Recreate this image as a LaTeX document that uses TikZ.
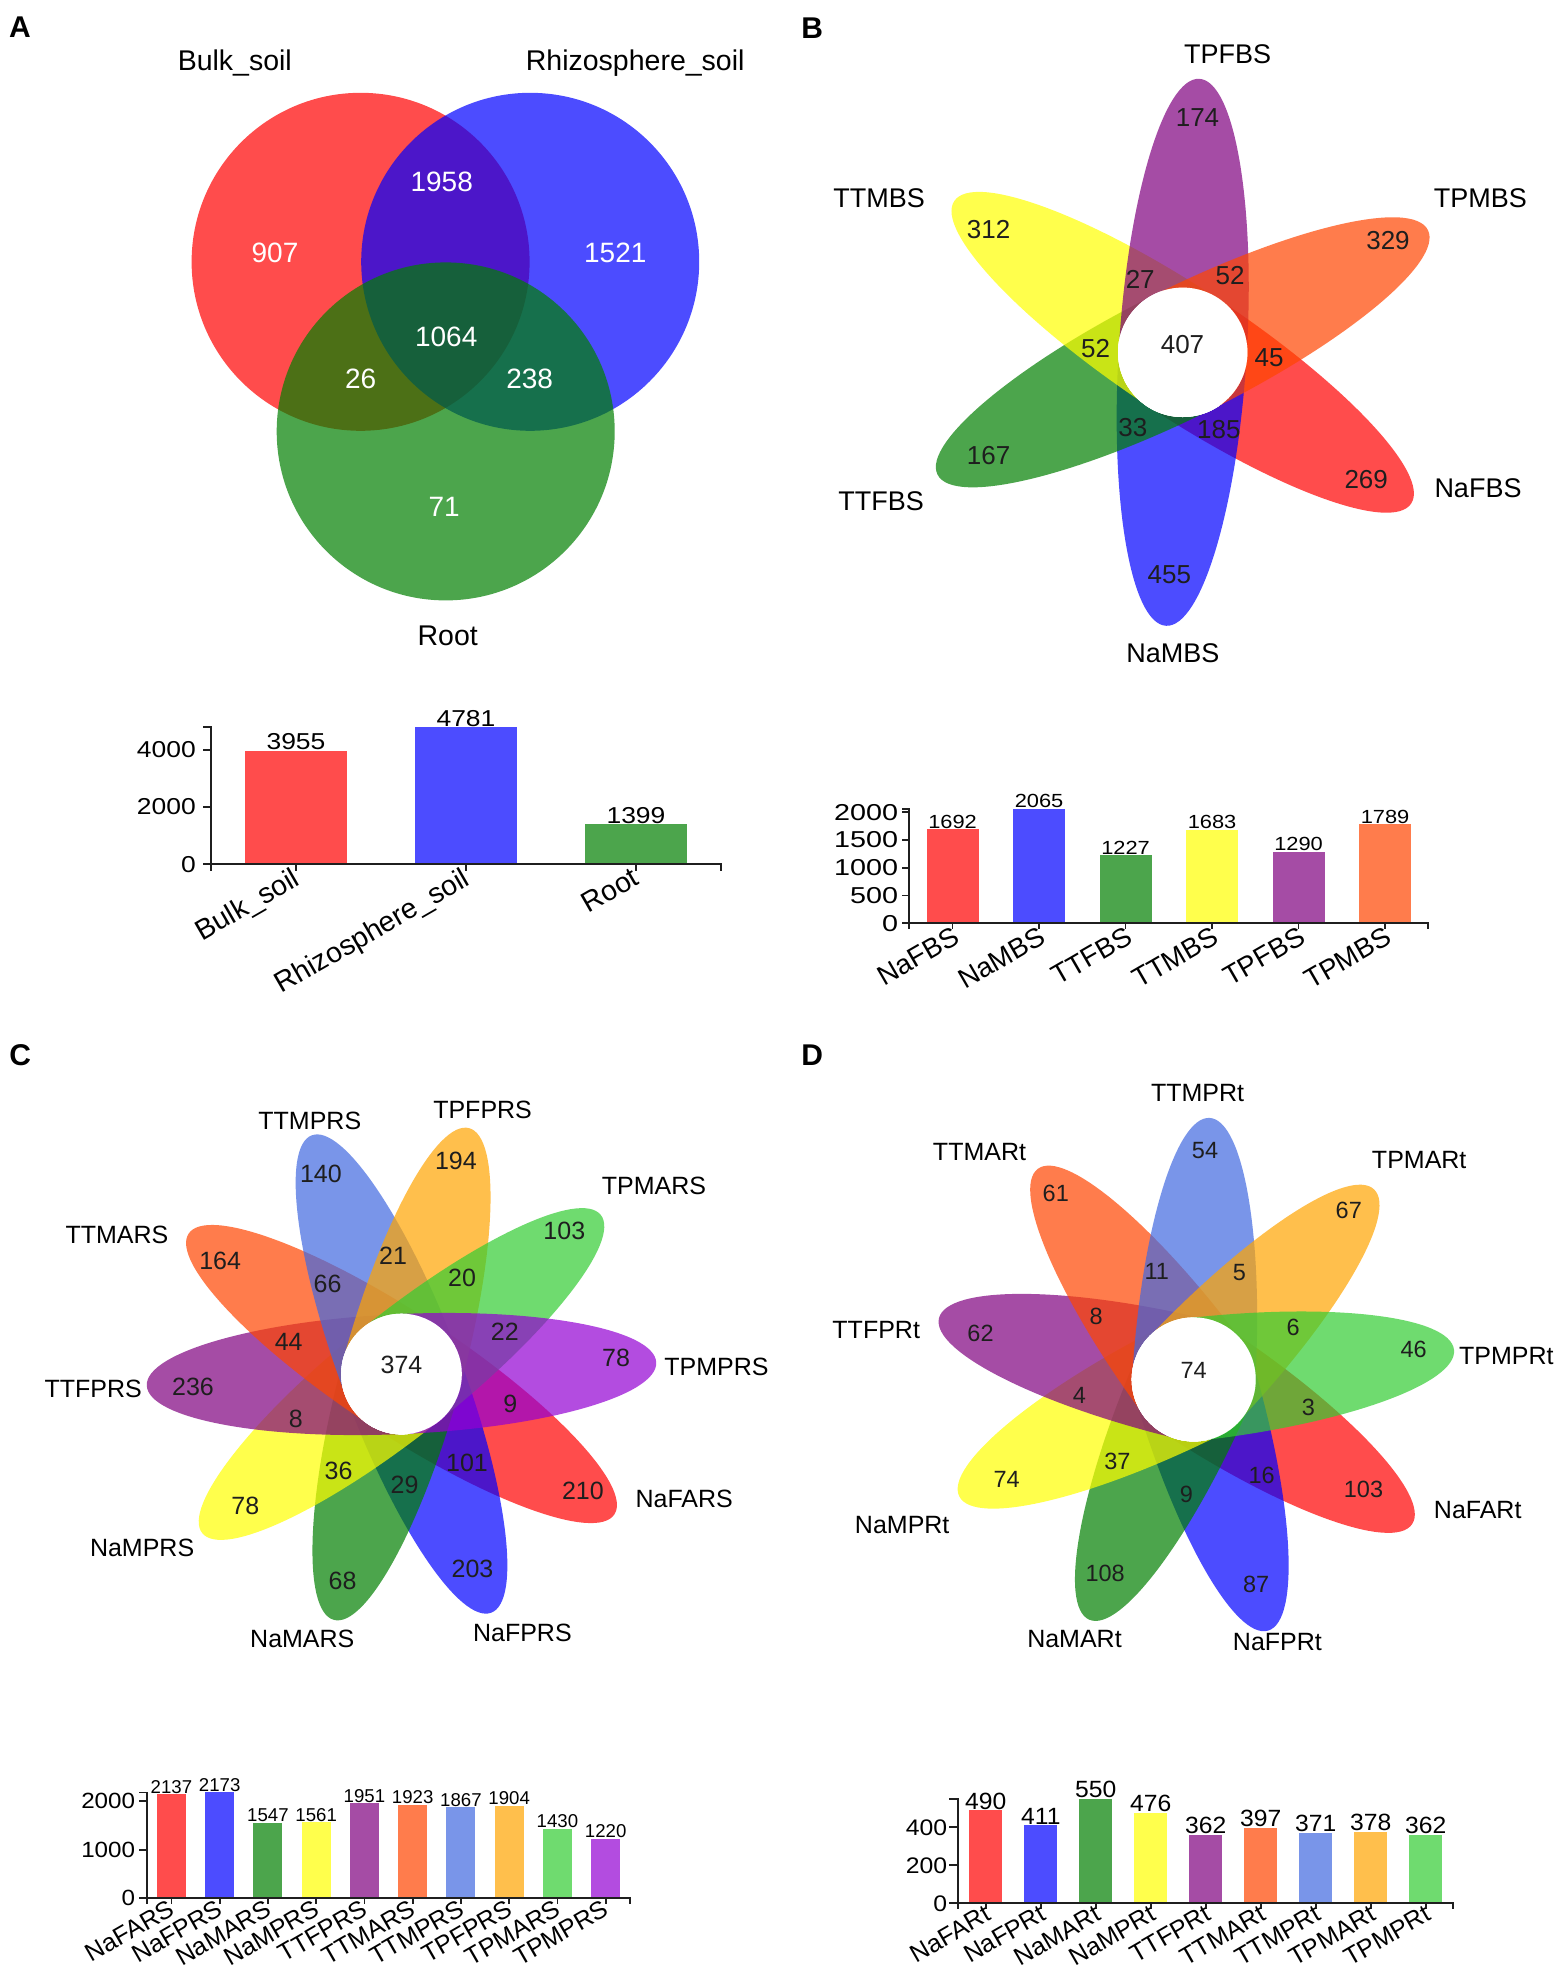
\documentclass[tikz,border=0pt]{standalone}
\usepackage{fontspec}
\setmainfont{Liberation Sans}
\usepackage{graphicx}
\definecolor{cRed}{RGB}{255,0,0}
\definecolor{cBlue}{RGB}{0,0,255}
\definecolor{cGreen}{RGB}{0,128,0}
\definecolor{cYellow}{RGB}{255,255,0}
\definecolor{cPurple}{RGB}{128,0,128}
\definecolor{cOrRed}{RGB}{255,69,0}
\definecolor{cRoyal}{RGB}{65,105,225}
\definecolor{cOrange}{RGB}{255,165,0}
\definecolor{cLime}{RGB}{50,205,50}
\definecolor{cViolet}{RGB}{148,0,211}
\definecolor{numc}{RGB}{30,30,30}
\newcommand\fs[1]{\fontsize{#1}{#1}\selectfont}
\newcommand\hs[2]{\scalebox{#1}[1]{#2}}
\newcommand\petal[6]{\begin{scope}[shift={(#1,#2)},rotate=#3]\fill[#6,fill opacity=0.7] (0pt,-#5pt) arc[start angle=-90,end angle=90,x radius=#4pt,y radius=#5pt] -- cycle;\end{scope}}
\tikzset{
  plet/.style={font=\fs{30}\bfseries, inner sep=0},
  vlab/.style={font=\fs{28.5}, inner sep=0},
  vnum/.style={font=\fs{28}, text=white, inner sep=0},
  bname/.style={font=\fs{27}, inner sep=0},
  bnum/.style={font=\fs{26}, text=numc, inner sep=0},
  cname/.style={font=\fs{25}, inner sep=0},
  cnum/.style={font=\fs{25}, text=numc, inner sep=0},
  dname/.style={font=\fs{25}, inner sep=0},
  dnum/.style={font=\fs{23.5}, text=numc, inner sep=0},
  axisl/.style={line width=1.8pt, draw=black!88, line cap=rect},
  lab/.style={inner sep=0},
  hole/.style={circle, fill=white, inner sep=0},
}
\begin{document}
\begin{tikzpicture}[x=1pt,y=-1pt]
\useasboundingbox (0,0) rectangle (1562,1971);
\fill[white] (0,0) rectangle (1562,1971);

%% ---------------- Panel A ----------------
\node[plet] (LA) at (19.9,27.4) {A};
\fill[cRed,fill opacity=0.7] (360.6,261.8) circle[radius=169pt];
\fill[cBlue,fill opacity=0.7] (530.2,261.8) circle[radius=169pt];
\fill[cGreen,fill opacity=0.7] (445.7,431.4) circle[radius=169pt];
\node[vlab] (An1) at (234.8,63.1) {Bulk\_soil};
\node[vlab] (An2) at (635.2,63.1) {Rhizosphere\_soil};
\node[vlab] (An3) at (447.7,635.6) {Root};
\foreach \x/\y/\t [count=\i] in {275/252.5/907, 441.7/181.8/1958, 615.3/252.5/1521, 446.2/336.7/1064, 360.6/378.8/26, 529.7/378.8/238, 444.2/507.2/71}
  \node[vnum] (Av\i) at (\x,\y) {\t};

% bars A
\def\bcX{211}\def\bcY{864.3}\def\bcS{0.02865}\def\bcW{170}\def\bcB{101.3}
\foreach \v/\c/\l [count=\i from 0] in {3955/cRed/Bulk\_soil, 4781/cBlue/Rhizosphere\_soil, 1399/cGreen/Root} {
  \pgfmathsetmacro\cx{\bcX+\bcW*(\i+0.5)}
  \pgfmathsetmacro\ty{\bcY-\v*\bcS}
  \fill[\c,fill opacity=0.7] ({\cx-\bcB/2},\bcY) rectangle ({\cx+\bcB/2},\ty);
  \draw[axisl] (\cx,\bcY) -- (\cx,{\bcY+6});
  \node[lab,font=\fs{23},anchor=base] (Abv\i) at (\cx,{\ty-1}) {\hs{1.15}{\v}};
  \node[lab,font=\fs{28.5},anchor=north east,rotate=30] (Abx\i) at ({\cx-5},{\bcY+2}) {\l};
}
\foreach \t in {0,2000,4000} {
  \draw[axisl] (\bcX,{\bcY-\t*\bcS}) -- ++(-7,0);
  \node[lab,font=\fs{23},anchor=east] (Abt\t) at ({\bcX-15},{\bcY-\t*\bcS}) {\hs{1.15}{\t}};
}
\draw[axisl] (\bcX,{\bcY+6}) -- (\bcX,{\bcY-4781*\bcS}) -- ++(-7,0);
\draw[axisl] (\bcX,\bcY) -- ({\bcX+3*\bcW},\bcY) -- ++(0,6);

%% ---------------- Panel B ----------------
\node[plet] (LB) at (812.2,28.2) {B};
\foreach \a/\c in {326.5/cRed, 266.5/cBlue, 206.5/cGreen, 146.5/cYellow, 86.5/cPurple, 26.5/cOrRed}
  \petal{1182.7}{352.3}{\a}{274}{64}{\c}
\node[hole, minimum size=129.4pt] (Bhole) at (1182.7,352.3) {};
\foreach \x/\y/\t [count=\i] in {1227.7/54.2/TPFBS, 879.2/198.3/TTMBS, 1480.4/198.3/TPMBS, 881.2/501.3/TTFBS, 1478/488.3/NaFBS, 1172.8/653.2/NaMBS}
  \node[bname] (Bn\i) at (\x,\y) {\t};
\foreach \x/\y/\t [count=\i] in {1197.5/117.2/174, 988.6/230/312, 1388/240.9/329, 1140.2/279/27, 1230.1/275.6/52, 1182.5/345/407, 1095.5/348.5/52, 1269/358/45, 1132.9/427.5/33, 1218.9/429.7/185, 988.6/455.7/167, 1366.2/479.6/269, 1169.4/575/455}
  \node[bnum] (Bv\i) at (\x,\y) {\t};

% bars B
\def\bcX{909.3}\def\bcY{923.3}\def\bcS{0.0555}\def\bcW{86.5}\def\bcB{52}
\foreach \v/\c/\l [count=\i from 0] in {1692/cRed/NaFBS, 2065/cBlue/NaMBS, 1227/cGreen/TTFBS, 1683/cYellow/TTMBS, 1290/cPurple/TPFBS, 1789/cOrRed/TPMBS} {
  \pgfmathsetmacro\cx{\bcX+\bcW*(\i+0.5)}
  \pgfmathsetmacro\ty{\bcY-\v*\bcS}
  \fill[\c,fill opacity=0.7] ({\cx-\bcB/2},\bcY) rectangle ({\cx+\bcB/2},\ty);
  \draw[axisl] (\cx,\bcY) -- (\cx,{\bcY+5});
  \node[lab,font=\fs{19},anchor=base] (Bbv\i) at (\cx,{\ty-1}) {\hs{1.15}{\v}};
  \node[lab,font=\fs{27.5},anchor=north east,rotate=30] (Bbx\i) at ({\cx-1},{\bcY+2}) {\l};
}
\foreach \t in {0,500,1000,1500,2000} {
  \draw[axisl] (\bcX,{\bcY-\t*\bcS}) -- ++(-6,0);
  \node[lab,font=\fs{23},anchor=east] (Bbt\t) at ({\bcX-11},{\bcY-\t*\bcS}) {\hs{1.25}{\t}};
}
\draw[axisl] (\bcX,{\bcY+5}) -- (\bcX,{\bcY-2065*\bcS}) -- ++(-6,0);
\draw[axisl] (\bcX,\bcY) -- ({\bcX+6*\bcW},\bcY) -- ++(0,5);

%% ---------------- Panel C ----------------
\node[plet] (LC) at (20.2,1054.9) {C};
\foreach \a/\c in {326.6/cRed, 290.6/cBlue, 254.6/cGreen, 218.6/cYellow, 182.6/cPurple, 146.6/cOrRed, 110.6/cRoyal, 74.6/cOrange, 38.6/cLime, 2.6/cViolet}
  \petal{401.5}{1374}{\a}{255}{60}{\c}
\node[hole, minimum size=120.6pt] (Chole) at (401.5,1374) {};
\foreach \x/\y/\t [count=\i] in {309.8/1120.4/TTMPRS, 482.6/1110/TPFPRS, 653.9/1185.4/TPMARS, 116.9/1235.2/TTMARS, 716.4/1366.6/TPMPRS, 93.2/1388.5/TTFPRS, 684.2/1499.2/NaFARS, 142.1/1548.1/NaMPRS, 302.3/1639.3/NaMARS, 522.4/1633.1/NaFPRS}
  \node[cname] (Cn\i) at (\x,\y) {\t};
\foreach \x/\y/\t [count=\i] in {320.9/1174.2/140, 455.9/1160.6/194, 564.3/1231/103, 220.2/1260.9/164, 327.5/1284.1/66, 393/1255.9/21, 462/1277.5/20, 504.8/1331.8/22, 616.1/1357.5/78, 288.7/1342.1/44, 401.5/1364.9/374, 193/1387.3/236, 510.3/1404.3/9, 295.7/1418.8/8, 467/1463.2/101, 338.5/1470.6/36, 404.5/1484.7/29, 582.9/1491.3/210, 245.3/1505.4/78, 472.5/1568.9/203, 342.6/1580.5/68}
  \node[cnum] (Cv\i) at (\x,\y) {\t};

% bars C
\def\bcX{147.3}\def\bcY{1898.3}\def\bcS{0.0487}\def\bcW{48.25}\def\bcB{29}
\foreach \v/\c/\l [count=\i from 0] in {2137/cRed/NaFARS, 2173/cBlue/NaFPRS, 1547/cGreen/NaMARS, 1561/cYellow/NaMPRS, 1951/cPurple/TTFPRS, 1923/cOrRed/TTMARS, 1867/cRoyal/TTMPRS, 1904/cOrange/TPFPRS, 1430/cLime/TPMARS, 1220/cViolet/TPMPRS} {
  \pgfmathsetmacro\cx{\bcX+\bcW*(\i+0.5)}
  \pgfmathsetmacro\ty{\bcY-\v*\bcS}
  \fill[\c,fill opacity=0.7] ({\cx-\bcB/2},\bcY) rectangle ({\cx+\bcB/2},\ty);
  \draw[axisl] (\cx,\bcY) -- (\cx,{\bcY+5});
  \node[lab,font=\fs{18.6},anchor=base] (Cbv\i) at (\cx,{\ty-1}) {\v};
  \node[lab,font=\fs{25},anchor=north east,rotate=30] (Cbx\i) at ({\cx-4},{\bcY+0.5}) {\l};
}
\foreach \t in {0,1000,2000} {
  \draw[axisl] (\bcX,{\bcY-\t*\bcS}) -- ++(-7,0);
  \node[lab,font=\fs{22},anchor=east] (Cbt\t) at ({\bcX-12},{\bcY-\t*\bcS}) {\hs{1.1}{\t}};
}
\draw[axisl] (\bcX,{\bcY+5}) -- (\bcX,{\bcY-2173*\bcS}) -- ++(-7,0);
\draw[axisl] (\bcX,\bcY) -- ({\bcX+10*\bcW},\bcY) -- ++(0,5);

%% ---------------- Panel D ----------------
\node[plet] (LD) at (812.2,1054.9) {D};
\foreach \a/\c in {326.5/cRed, 286.5/cBlue, 246.5/cGreen, 206.5/cYellow, 166.5/cPurple, 126.5/cOrRed, 86.5/cRoyal, 46.5/cOrange, 6.5/cLime}
  \petal{1193.7}{1379.4}{\a}{262}{61.5}{\c}
\node[hole, minimum size=124pt] (Dhole) at (1193.7,1379.4) {};
\foreach \x/\y/\t [count=\i] in {1197.6/1093.4/TTMPRt, 979.5/1152.3/TTMARt, 1419.2/1159.7/TPMARt, 876.2/1329.7/TTFPRt, 1506.3/1356.2/TPMPRt, 1477.7/1509.6/NaFARt, 902.2/1525.3/NaMPRt, 1074.5/1639.3/NaMARt, 1277.4/1642.2/NaFPRt}
  \node[dname] (Dn\i) at (\x,\y) {\t};
\foreach \x/\y/\t [count=\i] in {1205/1150.2/54, 1055.8/1193.7/61, 1348.8/1210.3/67, 1156.8/1271.7/11, 1239.5/1272.5/5, 1096.2/1316/8, 1293.1/1327.6/6, 980.5/1333.8/62, 1413.7/1349.2/46, 1193.7/1370.7/74, 1079.5/1395.6/4, 1308.4/1407.2/3, 1117.4/1461.1/37, 1006.6/1478.9/74, 1261.6/1475.6/16, 1186.3/1494.2/9, 1363.5/1489.3/103, 1105.1/1573/108, 1256.2/1584.2/87}
  \node[dnum] (Dv\i) at (\x,\y) {\t};

% bars D
\def\bcX{958.3}\def\bcY{1903.3}\def\bcS{0.19}\def\bcW{55}\def\bcB{33}
\foreach \v/\c/\l [count=\i from 0] in {490/cRed/NaFARt, 411/cBlue/NaFPRt, 550/cGreen/NaMARt, 476/cYellow/NaMPRt, 362/cPurple/TTFPRt, 397/cOrRed/TTMARt, 371/cRoyal/TTMPRt, 378/cOrange/TPMARt, 362/cLime/TPMPRt} {
  \pgfmathsetmacro\cx{\bcX+\bcW*(\i+0.5)}
  \pgfmathsetmacro\ty{\bcY-\v*\bcS}
  \fill[\c,fill opacity=0.7] ({\cx-\bcB/2},\bcY) rectangle ({\cx+\bcB/2},\ty);
  \draw[axisl] (\cx,\bcY) -- (\cx,{\bcY+5});
  \node[lab,font=\fs{23.5},anchor=base] (Dbv\i) at (\cx,{\ty-1}) {\hs{1.05}{\v}};
  \node[lab,font=\fs{25},anchor=north east,rotate=30] (Dbx\i) at ({\cx-2},{\bcY+1}) {\l};
}
\foreach \t in {0,200,400} {
  \draw[axisl] (\bcX,{\bcY-\t*\bcS}) -- ++(-8,0);
  \node[lab,font=\fs{22.5},anchor=east] (Dbt\t) at ({\bcX-11},{\bcY-\t*\bcS}) {\hs{1.1}{\t}};
}
\draw[axisl] (\bcX,{\bcY+5}) -- (\bcX,{\bcY-550*\bcS}) -- ++(-8,0);
\draw[axisl] (\bcX,\bcY) -- ({\bcX+9*\bcW},\bcY) -- ++(0,5);
\end{tikzpicture}
\end{document}
